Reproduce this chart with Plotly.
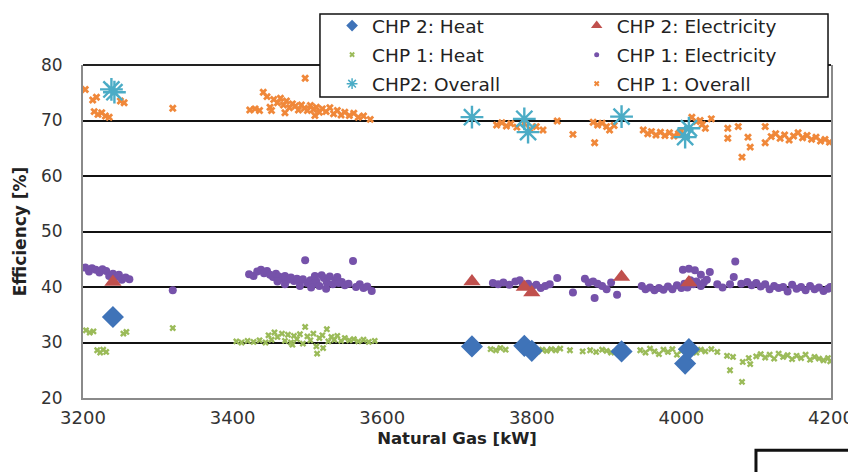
import plotly.graph_objects as go

# ---------------- data ----------------
chp2_heat_x = [3240, 3720, 3790, 3800, 3920, 4005, 4010]
chp2_heat_y = [34.6, 29.3, 29.4, 28.5, 28.4, 26.2, 28.8]

chp2_elec_x = [3240, 3720, 3790, 3800, 3920, 4010]
chp2_elec_y = [40.9, 41.0, 40.0, 39.0, 41.8, 40.8]

chp2_overall_x = [3238, 3242, 3720, 3790, 3795, 3920, 4005, 4010]
chp2_overall_y = [75.6, 75.1, 70.6, 70.3, 67.9, 70.7, 67.0, 68.6]

chp1_elec_x = [3203, 3208, 3212, 3217, 3222, 3226, 3231, 3235, 3240, 3244, 3248, 3252, 3257, 3262,
               3320,
               3422, 3428, 3433, 3438, 3442, 3446, 3450, 3454, 3458, 3462, 3466, 3470, 3474, 3478,
               3482, 3486, 3490, 3494, 3497, 3500, 3504, 3508, 3512, 3516, 3519, 3522, 3526, 3530,
               3534, 3538, 3542, 3546, 3550, 3555, 3561, 3565, 3570, 3575, 3580, 3586, 3505, 3525,
               3490, 3470, 3460, 3510, 3540,
               3748, 3755, 3762, 3770, 3778, 3784, 3788, 3795, 3800, 3806, 3812, 3818, 3824, 3834,
               3855, 3871, 3876, 3882, 3888, 3894, 3900, 3884, 3906, 3914, 3947, 3952, 3958, 3964,
               3970, 3976, 3982, 3988, 3994, 4000, 4004, 4008, 4012, 4016, 4020, 4026, 4030, 4034,
               4002, 4010, 4018, 4026, 4038, 4072, 4048, 4055, 4065, 4070, 4080, 4088, 4094, 4100,
               4106, 4112, 4118, 4124, 4130, 4136, 4142, 4148, 4154, 4160, 4166, 4172, 4178, 4184,
               4190, 4196, 4199]
chp1_elec_y = [43.5, 42.8, 43.4, 43.1, 42.6, 43.2, 42.9, 42.0, 42.4, 41.8, 42.2, 41.3, 41.7, 41.4,
               39.4,
               42.3, 42.0, 42.8, 43.1, 42.5, 42.9, 42.2, 41.8, 42.4, 41.9, 41.5, 42.0, 41.3, 41.7,
               41.1, 41.5, 40.9, 41.4, 44.8, 40.7, 41.2, 40.6, 41.0, 40.2, 42.1, 41.6, 40.8, 41.9,
               40.5, 41.2, 40.7, 40.9, 40.3, 40.6, 44.7, 40.0, 40.5, 39.8, 40.1, 39.3, 39.9, 39.7,
               40.2, 40.5, 41.0, 42.0, 41.8,
               40.7, 40.5, 40.8, 40.4, 41.0, 41.2, 40.2, 40.6, 40.0, 40.4, 39.8, 40.2, 40.5, 41.6,
               39.0, 41.5, 40.8, 41.0, 40.6, 40.2, 39.6, 38.0, 40.8, 38.6, 40.2, 39.6, 39.9, 39.4,
               39.8, 39.5, 40.1, 39.6, 40.3, 39.8, 40.6, 39.9, 41.2, 40.5, 41.0, 40.2, 40.8, 41.3,
               43.1, 43.3, 43.0, 42.2, 42.7, 44.6, 40.5, 39.9, 40.5, 41.8, 40.6, 40.9, 40.3, 40.7,
               40.1, 40.5, 39.6, 40.2, 39.8, 40.0, 39.2, 40.4, 39.7, 40.0, 39.4, 40.2, 39.6, 39.9,
               39.3, 39.7, 40.0]

chp1_heat_x = [3204, 3209, 3214, 3219, 3223, 3227, 3231, 3254, 3258,
               3320,
               3405, 3412, 3420, 3428, 3436, 3444, 3452, 3460, 3466, 3470, 3474, 3478, 3482, 3486,
               3490, 3494, 3497, 3500, 3504, 3508, 3512, 3513, 3516, 3520, 3521, 3526, 3528, 3532,
               3536, 3540, 3545, 3550, 3556, 3562, 3568, 3575, 3582, 3590, 3448, 3456, 3480,
               3745, 3752, 3758, 3765, 3800, 3808, 3814, 3820, 3826, 3832, 3838, 3851, 3868, 3878,
               3886, 3894, 3900, 3906, 3945, 3952, 3958, 3964, 3970, 3976, 3982, 3988, 3994, 4000,
               4014, 4020, 4026, 4032, 4040, 4048,
               4061, 4069, 4082, 4065, 4092, 4081, 4090,
               4100, 4106, 4112, 4118, 4124, 4130, 4136, 4142, 4148, 4154, 4160, 4166, 4172, 4178,
               4184, 4190, 4196, 4199]
chp1_heat_y = [32.2, 31.8, 32.0, 28.6, 28.2, 28.7, 28.3, 31.6, 31.9,
               32.6,
               30.2, 30.0, 30.3, 30.1, 30.4, 30.0, 30.5, 31.0, 31.6, 30.3, 31.4, 30.0, 31.2, 30.6,
               31.5, 29.8, 32.8, 31.1, 30.4, 31.6, 29.3, 28.0, 30.8, 31.3, 29.0, 32.4, 30.2, 31.0,
               30.5, 31.2, 30.3, 30.8, 30.4, 30.6, 30.2, 30.5, 30.1, 30.3, 31.3, 31.8, 29.6,
               28.8, 28.6, 29.0, 28.7, 29.0, 28.4, 28.7, 28.5, 28.8, 28.6, 28.9, 28.6, 28.4, 28.6,
               28.3, 28.7, 28.5, 28.2, 28.6, 28.2, 28.9, 28.4, 27.9, 28.7, 28.3, 28.8, 27.8, 28.5,
               28.9, 28.2, 28.7, 28.4, 28.8, 28.3,
               27.6, 27.4, 26.5, 25.0, 26.1, 22.9, 27.2,
               27.5, 27.9, 27.3, 27.8, 27.1, 28.0, 27.4, 27.7, 27.0, 27.6, 27.2, 27.8, 26.9, 27.4,
               27.1, 26.8, 27.2, 26.6]

chp1_overall_x = [3203, 3213, 3218, 3215, 3220, 3225, 3230, 3235, 3250, 3255,
                  3320,
                  3423, 3430, 3436, 3441, 3446, 3450, 3455, 3460, 3464, 3468, 3472, 3476, 3480,
                  3484, 3488, 3492, 3496, 3497, 3500, 3504, 3508, 3512, 3516, 3520, 3525, 3530,
                  3535, 3540, 3545, 3550, 3556, 3562, 3568, 3575, 3584, 3452, 3470, 3510,
                  3753, 3760, 3766, 3772, 3780, 3790, 3798, 3806, 3815, 3834, 3855, 3882, 3888,
                  3894, 3900, 3884, 3904, 3910, 3949, 3955, 3960, 3966, 3972, 3978, 3984, 3990,
                  3996, 4000, 4014, 4020, 4025, 4032, 4028, 4040, 4062, 4062, 4076, 4089, 4092,
                  4081, 4112, 4112, 4120, 4126, 4132, 4138, 4144, 4150, 4156, 4162, 4168, 4174,
                  4180, 4186, 4192, 4198]
chp1_overall_y = [75.6, 73.7, 74.2, 71.6, 71.1, 71.4, 70.8, 70.6, 73.5, 73.2,
                  72.2,
                  71.9, 72.1, 71.8, 75.1, 74.3, 72.4, 73.8, 73.2, 74.0, 72.8, 73.5, 72.3, 73.0,
                  72.6, 71.9, 72.8, 72.2, 77.6, 71.8, 72.7, 72.0, 72.4, 71.5, 72.1, 71.6, 72.3,
                  71.2, 71.8, 71.0, 71.5, 70.9, 71.3, 70.6, 70.8, 70.2, 71.8, 71.4, 70.9,
                  69.2, 69.6, 69.0, 69.4, 68.8, 69.5, 68.4, 68.9, 68.3, 69.9, 67.5, 69.7, 69.2,
                  69.5, 68.9, 66.0, 68.3, 69.1, 68.3, 67.6, 68.0, 67.4, 67.9, 67.3, 67.8, 67.2,
                  67.6, 68.1, 70.6, 69.8, 70.0, 68.6, 69.3, 70.3, 68.6, 66.8, 68.9, 67.0, 65.2,
                  63.4, 68.9, 66.0, 67.1, 67.6, 66.8, 67.4, 66.5, 67.2, 67.8, 66.9, 67.3, 66.6,
                  67.0, 66.3, 66.6, 66.1]

x_ticks = [3200, 3400, 3600, 3800, 4000, 4200]
y_ticks = [20, 30, 40, 50, 60, 70, 80]

# ---------------- styles ----------------
C_BLUE = "#3F73B8"
C_RED = "#C0504D"
C_AQUA = "#4BACC6"
C_PURPLE = "#7652AA"
C_GREEN = "#9BBB59"
C_ORANGE = "#F0883A"

FONT_W = "DejaVu Sans, sans-serif"

fig = go.Figure()

fig.add_trace(go.Scatter(x=chp1_heat_x, y=chp1_heat_y, mode="markers", showlegend=False,
                         marker=dict(symbol="x", size=6, color=C_GREEN, line=dict(width=0))))
fig.add_trace(go.Scatter(x=chp1_overall_x, y=chp1_overall_y, mode="markers", showlegend=False,
                         marker=dict(symbol="x", size=7, color=C_ORANGE, line=dict(width=0))))
fig.add_trace(go.Scatter(x=chp1_elec_x, y=chp1_elec_y, mode="markers", showlegend=False,
                         marker=dict(symbol="circle", size=8, color=C_PURPLE, line=dict(width=0))))
fig.add_trace(go.Scatter(x=chp2_heat_x, y=chp2_heat_y, mode="markers", showlegend=False,
                         marker=dict(symbol="diamond", size=17, color=C_BLUE, line=dict(width=0))))
fig.add_trace(go.Scatter(x=chp2_elec_x, y=chp2_elec_y, mode="markers", showlegend=False,
                         marker=dict(symbol="triangle-up", size=15, color=C_RED, line=dict(width=0))))
fig.add_trace(go.Scatter(x=chp2_overall_x, y=chp2_overall_y, mode="markers", showlegend=False,
                         marker=dict(symbol="asterisk-open", size=19, color=C_AQUA,
                                     line=dict(width=2.4, color=C_AQUA))))

# legend-only entries: left column in "legend", right column in "legend2"
legend_items = [
    ("CHP 2: Heat", "legend", dict(symbol="diamond", size=9, color=C_BLUE)),
    ("CHP 1: Heat", "legend", dict(symbol="x", size=5, color=C_GREEN)),
    ("CHP2: Overall", "legend", dict(symbol="asterisk-open", size=9, color=C_AQUA,
                                     line=dict(width=1.5, color=C_AQUA))),
    ("CHP 2: Electricity", "legend2", dict(symbol="triangle-up", size=10, color=C_RED)),
    ("CHP 1: Electricity", "legend2", dict(symbol="circle", size=5, color=C_PURPLE)),
    ("CHP 1: Overall", "legend2", dict(symbol="x", size=5, color=C_ORANGE)),
]
for name, lg, mk in legend_items:
    fig.add_trace(go.Scatter(x=[None], y=[None], mode="markers", name=name, legend=lg,
                             legendgroup=name, marker=mk))

leg_common = dict(orientation="v", yanchor="top", xanchor="left", bgcolor="rgba(0,0,0,0)",
                  borderwidth=0, font=dict(family=FONT_W, size=18.5, color="#222"),
                  itemclick=False, tracegroupgap=2)

fig.update_layout(
    width=856, height=472,
    margin=dict(l=75, r=33, t=57, b=82, autoexpand=False),
    paper_bgcolor="white", plot_bgcolor="white",
    font=dict(family=FONT_W, size=16, color="#222"),
    legend=dict(x=0.333, y=1.174, **leg_common),
    legend2=dict(x=0.660, y=1.174, **leg_common),
    xaxis=dict(
        range=[3200, 4200], tickvals=x_ticks, ticktext=[str(v) for v in x_ticks],
        showgrid=False, zeroline=False, showline=True, linecolor="#8a8a8a", linewidth=2,
        ticks="outside", ticklen=2, tickcolor="rgba(0,0,0,0)", automargin=False,
        tickfont=dict(family=FONT_W, size=18, color="#333"),
        title=dict(text="<b>Natural Gas [kW]</b>", font=dict(family=FONT_W, size=16.5, color="#222"), standoff=6),
    ),
    yaxis=dict(
        range=[20, 80], tickvals=y_ticks, ticktext=[str(v) for v in y_ticks],
        showgrid=True, gridcolor="#111", gridwidth=2, zeroline=False,
        showline=True, linecolor="#8a8a8a", linewidth=2, mirror=True,
        ticks="outside", ticklen=15, tickcolor="rgba(0,0,0,0)", automargin=False,
        tickfont=dict(family=FONT_W, size=17, color="#333"),
        title=dict(text="<b>Efficiency [%]</b>", font=dict(family=FONT_W, size=17, color="#222"), standoff=10),
    ),
    shapes=[
        dict(type="line", xref="paper", yref="paper", x0=0, x1=1, y0=1, y1=1,
             line=dict(color="#222", width=2), layer="below"),
        dict(type="rect", xref="paper", yref="paper", x0=0.3168, x1=0.996, y0=0.904, y1=1.153,
             line=dict(color="#111", width=1.5), fillcolor="white", layer="above"),
        dict(type="rect", xref="paper", yref="paper", x0=0.8997, x1=1.045, y0=-0.157, y1=-0.25,
             line=dict(color="#111", width=3), fillcolor="white"),
    ],
)

fig.write_html("out.html")
